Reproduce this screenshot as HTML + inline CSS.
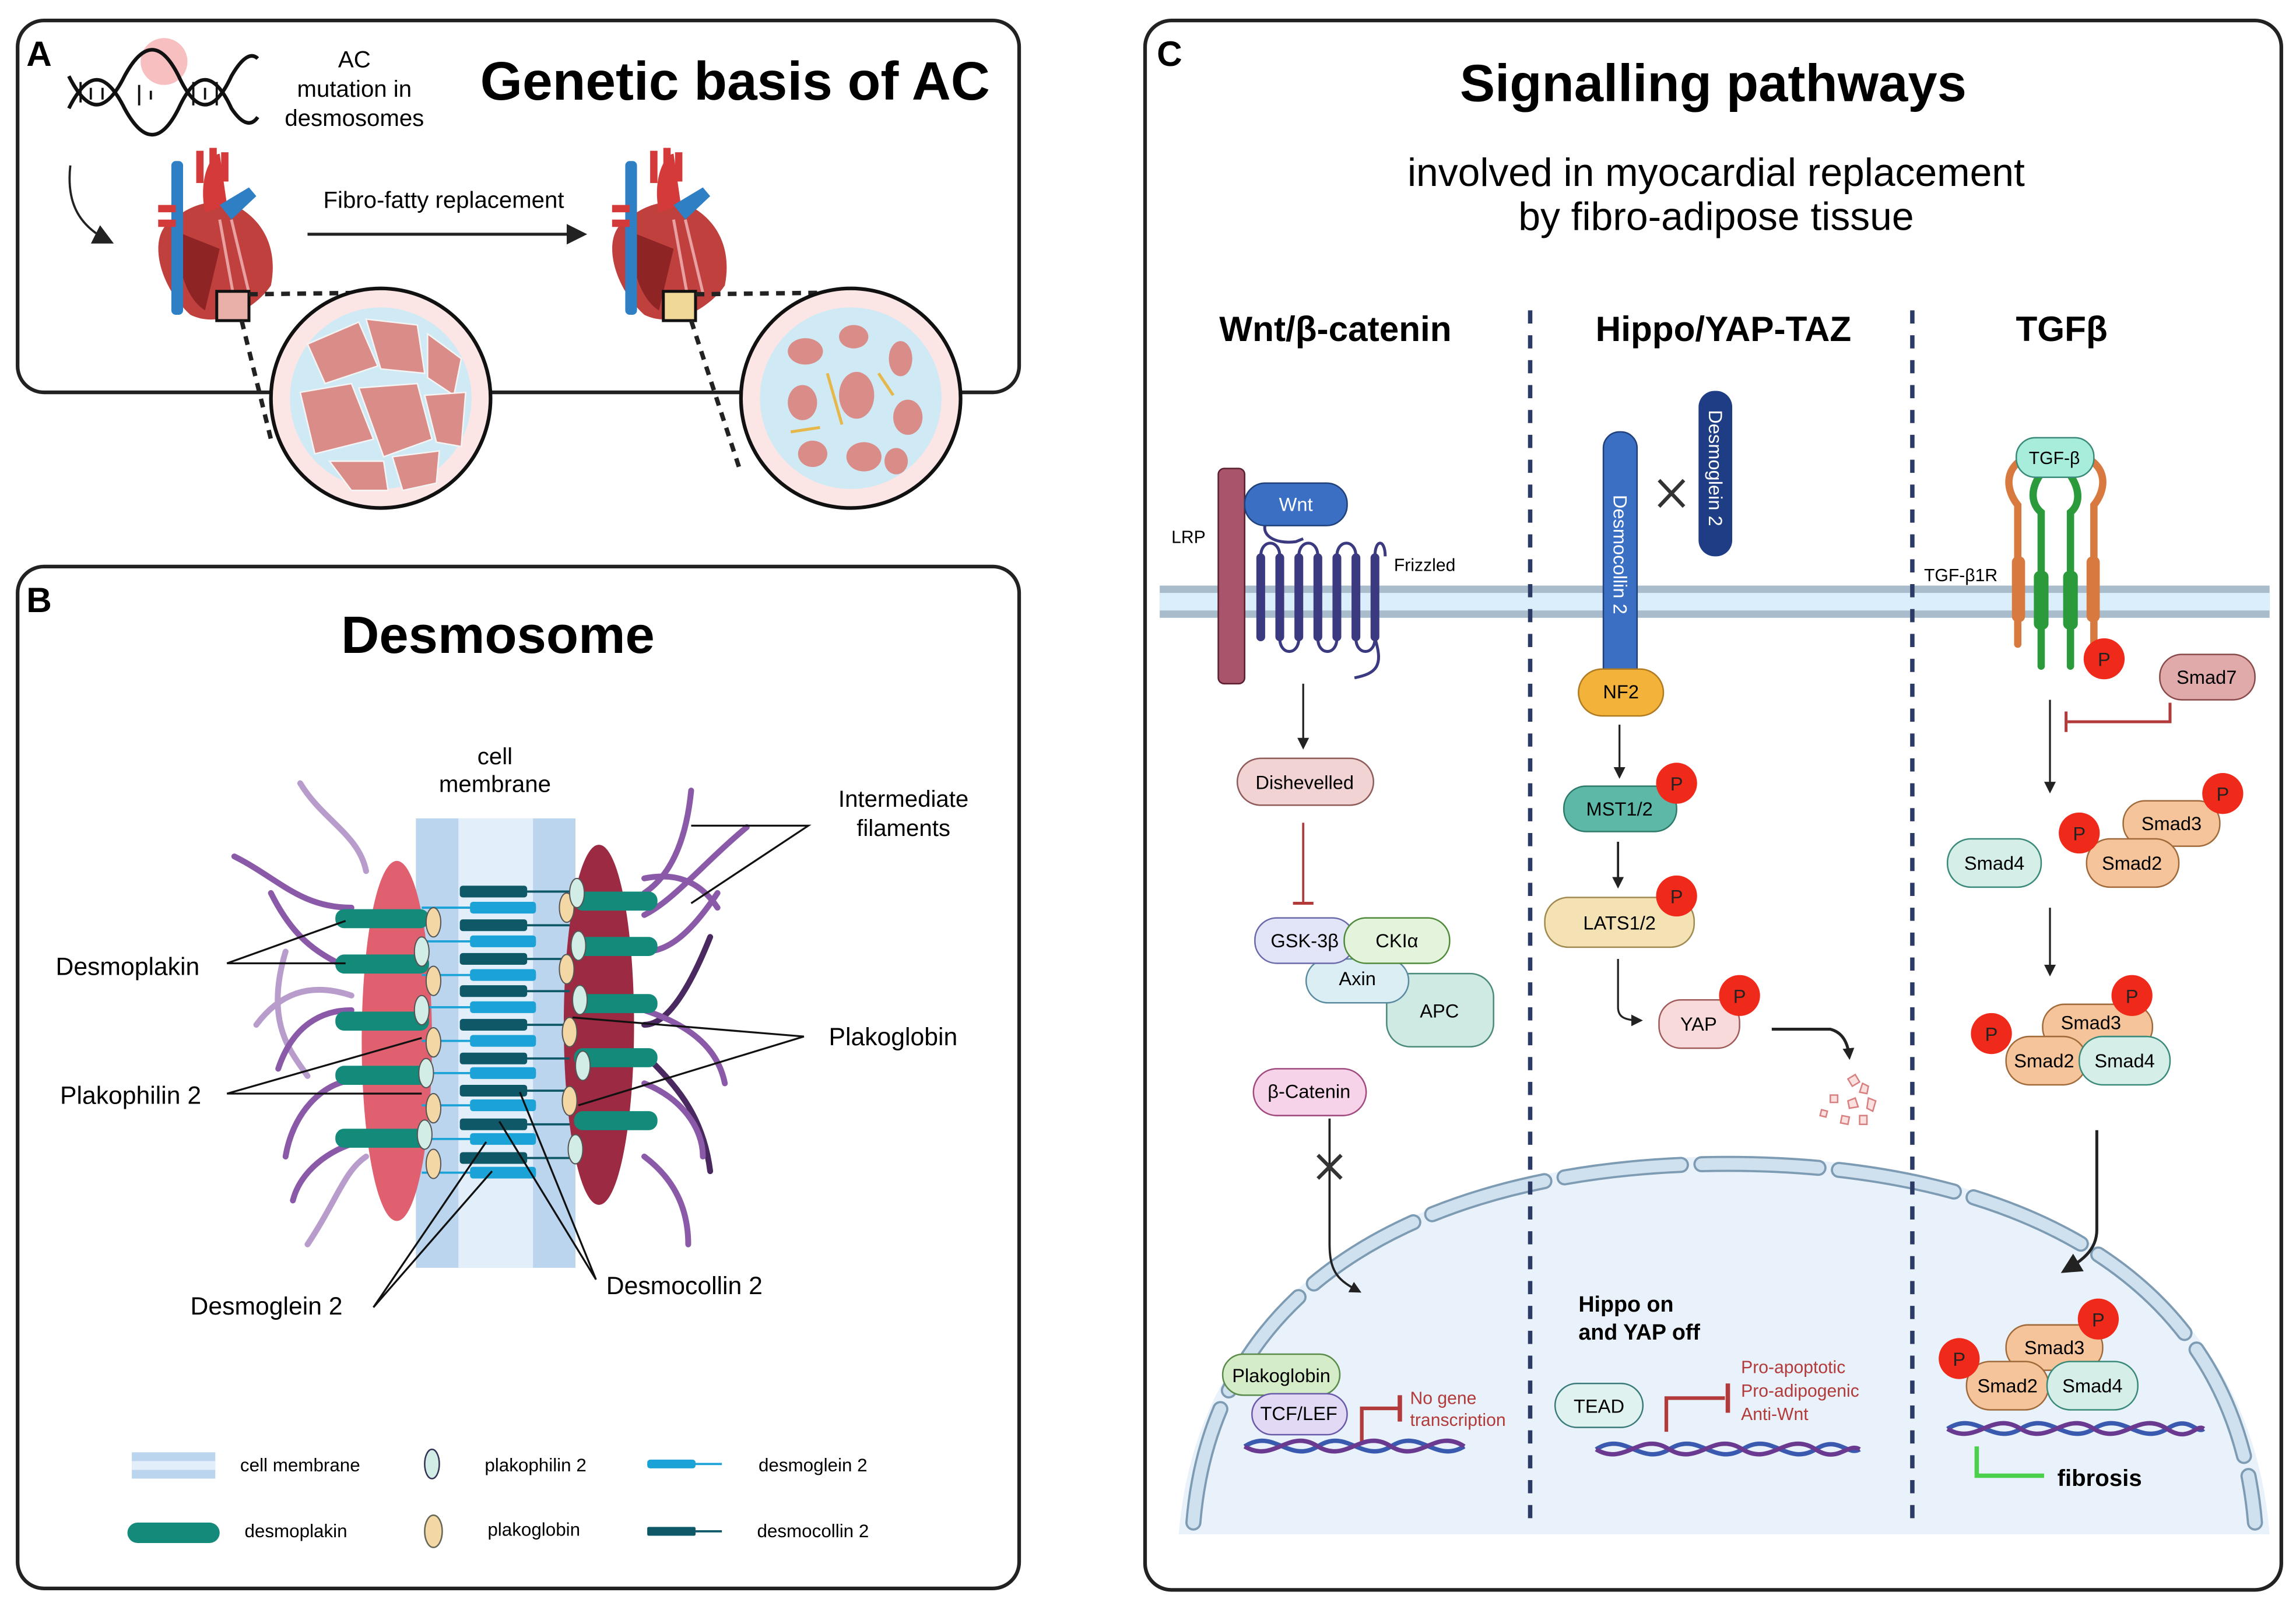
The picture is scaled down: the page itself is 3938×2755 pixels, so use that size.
<!DOCTYPE html>
<html><head><meta charset="utf-8"><style>
html,body{margin:0;padding:0;background:#fff}
svg{display:block}
text{font-family:"Liberation Sans",sans-serif}
</style></head><body>
<svg width="3938" height="2755" viewBox="0 0 1568 1097" xmlns="http://www.w3.org/2000/svg">
<defs>
<marker id="ah" markerWidth="8" markerHeight="8" refX="6" refY="4" orient="auto" markerUnits="userSpaceOnUse"><path d="M0,0 L8,4 L0,8 Z" fill="#222"/></marker>
<marker id="ahb" markerWidth="14" markerHeight="14" refX="11" refY="7" orient="auto" markerUnits="userSpaceOnUse"><path d="M0,0 L14,7 L0,14 Z" fill="#222"/></marker>
</defs>
<rect width="1568" height="1097" fill="#fff"/>

<!-- ===== PANEL A ===== -->
<rect x="12" y="14" width="684" height="254" rx="18" fill="#fff" stroke="#222" stroke-width="2.5"/>
<text x="18" y="45" font-size="24" font-weight="bold">A</text>
<circle cx="112" cy="42" r="16" fill="#f08080" opacity="0.5"/>
<g stroke="#111" stroke-width="2.5" fill="none">
<path d="M47,52 C60,78 72,78 85,52 C98,28 110,28 122,52 C134,78 146,78 158,52 C166,38 172,36 176,40"/>
<path d="M47,74 C60,48 72,48 85,74 C98,98 110,98 122,74 C134,48 146,48 158,74 C166,86 172,86 176,80"/>
</g>
<g stroke="#111" stroke-width="1.5">
<line x1="55" y1="56" x2="55" y2="70"/><line x1="62" y1="60" x2="62" y2="68"/><line x1="70" y1="60" x2="70" y2="68"/><line x1="95" y1="58" x2="95" y2="72"/><line x1="103" y1="62" x2="103" y2="68"/><line x1="132" y1="56" x2="132" y2="72"/><line x1="140" y1="60" x2="140" y2="68"/><line x1="148" y1="56" x2="148" y2="72"/>
</g>
<text x="242" y="46" font-size="16" text-anchor="middle">AC</text>
<text x="242" y="66" font-size="16" text-anchor="middle">mutation in</text>
<text x="242" y="86" font-size="16" text-anchor="middle">desmosomes</text>
<text x="502" y="68" font-size="37" font-weight="bold" text-anchor="middle">Genetic basis of AC</text>
<path d="M48,113 C45,140 55,155 75,165" fill="none" stroke="#222" stroke-width="1.5" marker-end="url(#ahb)"/>
<text x="303" y="142" font-size="16" text-anchor="middle">Fibro-fatty replacement</text>
<line x1="210" y1="160" x2="398" y2="160" stroke="#222" stroke-width="2" marker-end="url(#ahb)"/>
<g id="heart">
<path d="M118,150 C100,160 108,195 130,215 C150,225 175,210 185,195 C190,170 180,150 160,140 C145,135 130,140 118,150 Z" fill="#c0403e"/>
<path d="M125,160 C118,180 128,205 140,212 L150,170 Z" fill="#8e2424"/>
<path d="M150,150 L160,205 M158,150 L170,200" stroke="#e8a0a0" stroke-width="2"/>
<rect x="117" y="110" width="8" height="105" rx="3" fill="#2f7fc4"/>
<path d="M140,145 C135,120 145,105 150,105 L155,140 Z" fill="#d43a3a"/>
<rect x="134" y="103" width="5" height="22" fill="#d43a3a"/><rect x="143" y="101" width="5" height="22" fill="#d43a3a"/><rect x="151" y="104" width="5" height="20" fill="#d43a3a"/>
<path d="M150,140 L170,128 L175,134 L158,150 Z" fill="#2f7fc4"/>
<rect x="108" y="140" width="12" height="5" fill="#d43a3a"/><rect x="108" y="150" width="12" height="5" fill="#d43a3a"/>
</g>
<use href="#heart" transform="translate(310,0)"/>
<rect x="148" y="199" width="22" height="20" fill="#e8b0a8" stroke="#111" stroke-width="2"/>
<rect x="453" y="199" width="22" height="20" fill="#f0d898" stroke="#111" stroke-width="2"/>
<g stroke="#222" stroke-width="3" stroke-dasharray="6,5" fill="none">
<path d="M170,201 L250,200"/><path d="M165,219 L185,300"/>
<path d="M475,201 L560,200"/><path d="M472,219 L505,320"/>
</g>
<circle cx="260" cy="272" r="75" fill="#fbe5e5" stroke="#111" stroke-width="2.5"/>
<circle cx="260" cy="272" r="62" fill="#cfeaf5"/>
<g fill="#d98c88" stroke="#f4f4f4" stroke-width="1">
<path d="M210,235 L245,220 L258,250 L222,262 Z"/><path d="M250,218 L285,222 L290,255 L260,252 Z"/><path d="M292,228 L315,245 L310,270 L292,258 Z"/>
<path d="M205,268 L240,262 L255,300 L215,310 Z"/><path d="M245,265 L285,262 L295,300 L262,312 Z"/><path d="M290,270 L318,268 L315,305 L298,302 Z"/>
<path d="M225,315 L262,315 L265,335 L240,335 Z"/><path d="M268,312 L300,308 L298,330 L275,335 Z"/>
</g>
<circle cx="581" cy="272" r="75" fill="#fbe5e5" stroke="#111" stroke-width="2.5"/>
<circle cx="581" cy="272" r="62" fill="#cfeaf5"/>
<g fill="#d98c88">
<ellipse cx="550" cy="240" rx="12" ry="9"/><ellipse cx="583" cy="230" rx="10" ry="8"/><ellipse cx="615" cy="245" rx="8" ry="12"/>
<ellipse cx="548" cy="275" rx="10" ry="12"/><ellipse cx="585" cy="270" rx="12" ry="16"/><ellipse cx="620" cy="285" rx="10" ry="12"/>
<ellipse cx="555" cy="310" rx="10" ry="9"/><ellipse cx="590" cy="312" rx="12" ry="10"/><ellipse cx="612" cy="315" rx="8" ry="9"/>
</g>
<g stroke="#e6b84c" stroke-width="2"><line x1="565" y1="255" x2="575" y2="290"/><line x1="600" y1="255" x2="610" y2="270"/><line x1="540" y1="295" x2="560" y2="292"/></g>

<!-- ===== PANEL B ===== -->
<rect x="12" y="387" width="684" height="698" rx="18" fill="#fff" stroke="#222" stroke-width="2.5"/>
<text x="18" y="418" font-size="24" font-weight="bold">B</text>
<text x="340" y="446" font-size="36" font-weight="bold" text-anchor="middle">Desmosome</text>
<text x="338" y="522" font-size="16" text-anchor="middle">cell</text>
<text x="338" y="541" font-size="16" text-anchor="middle">membrane</text>
<text x="617" y="551" font-size="16" text-anchor="middle">Intermediate</text>
<text x="617" y="571" font-size="16" text-anchor="middle">filaments</text>
<g fill="none" stroke="#8a5aa8" stroke-width="4" stroke-linecap="round">
<path d="M205,535 C220,560 245,570 250,595" stroke="#b79ccc"/>
<path d="M160,585 C190,600 205,620 240,620"/>
<path d="M195,650 C180,700 200,720 210,735" stroke="#b79ccc"/>
<path d="M185,610 C200,640 215,650 235,660"/>
<path d="M190,730 C200,700 220,690 240,690"/>
<path d="M195,790 C200,760 220,740 240,738"/>
<path d="M200,820 C205,800 225,785 245,780"/>
<path d="M210,850 C230,820 235,800 250,790" stroke="#b79ccc"/>
<path d="M175,700 C190,680 210,670 240,680" stroke="#b79ccc"/>
<path d="M472,540 C468,580 455,600 440,610"/>
<path d="M510,565 C480,590 460,615 440,625"/>
<path d="M490,610 C470,640 455,650 440,650"/>
<path d="M485,640 C465,690 450,700 440,700" stroke="#4a2860"/>
<path d="M440,720 C460,740 480,760 485,800" stroke="#4a2860"/>
<path d="M440,690 C470,700 490,715 495,740"/>
<path d="M440,740 C465,750 480,770 480,790"/>
<path d="M440,790 C460,805 470,825 470,850"/>
<path d="M440,600 C465,595 480,605 490,620"/>
</g>
<rect x="284" y="559" width="109" height="307" fill="#bcd5ef"/>
<rect x="313" y="559" width="51" height="307" fill="#e2eefa"/>
<ellipse cx="271" cy="711" rx="24" ry="123" fill="#e06070"/>
<ellipse cx="409" cy="700" rx="24" ry="123" fill="#9c2a42"/>
<g>
<g stroke="#0e5868" stroke-width="1.5">
<line x1="315" y1="609" x2="389" y2="609"/><line x1="315" y1="632" x2="389" y2="632"/><line x1="315" y1="655" x2="389" y2="655"/><line x1="315" y1="677" x2="389" y2="677"/><line x1="315" y1="700" x2="389" y2="700"/><line x1="315" y1="723" x2="389" y2="723"/><line x1="315" y1="745" x2="389" y2="745"/><line x1="315" y1="768" x2="389" y2="768"/><line x1="315" y1="791" x2="389" y2="791"/>
</g>
<g stroke="#1ba3d8" stroke-width="1.5">
<line x1="288" y1="620" x2="366" y2="620"/><line x1="288" y1="643" x2="366" y2="643"/><line x1="288" y1="666" x2="366" y2="666"/><line x1="288" y1="688" x2="366" y2="688"/><line x1="288" y1="711" x2="366" y2="711"/><line x1="288" y1="733" x2="366" y2="733"/><line x1="288" y1="755" x2="366" y2="755"/><line x1="288" y1="778" x2="366" y2="778"/><line x1="288" y1="801" x2="366" y2="801"/>
</g>
<g fill="#0e5868">
<rect x="314" y="605" width="46" height="8" rx="2"/><rect x="314" y="628" width="46" height="8" rx="2"/><rect x="314" y="651" width="46" height="8" rx="2"/><rect x="314" y="673" width="46" height="8" rx="2"/><rect x="314" y="696" width="46" height="8" rx="2"/><rect x="314" y="719" width="46" height="8" rx="2"/><rect x="314" y="741" width="46" height="8" rx="2"/><rect x="314" y="764" width="46" height="8" rx="2"/><rect x="314" y="787" width="46" height="8" rx="2"/>
</g>
<g fill="#1ba3d8">
<rect x="321" y="616" width="45" height="8" rx="2"/><rect x="321" y="639" width="45" height="8" rx="2"/><rect x="321" y="662" width="45" height="8" rx="2"/><rect x="321" y="684" width="45" height="8" rx="2"/><rect x="321" y="707" width="45" height="8" rx="2"/><rect x="321" y="729" width="45" height="8" rx="2"/><rect x="321" y="751" width="45" height="8" rx="2"/><rect x="321" y="774" width="45" height="8" rx="2"/><rect x="321" y="797" width="45" height="8" rx="2"/>
</g>
</g>
<g fill="#138a7a">
<rect x="229" y="621" width="64" height="13" rx="6"/><rect x="229" y="652" width="64" height="13" rx="6"/><rect x="229" y="691" width="64" height="13" rx="6"/><rect x="229" y="728" width="64" height="13" rx="6"/><rect x="229" y="771" width="64" height="13" rx="6"/>
<rect x="392" y="609" width="57" height="13" rx="6"/><rect x="392" y="640" width="57" height="13" rx="6"/><rect x="392" y="679" width="57" height="13" rx="6"/><rect x="392" y="716" width="57" height="13" rx="6"/><rect x="392" y="759" width="57" height="13" rx="6"/>
</g>
<g stroke="#555" stroke-width="0.8">
<g fill="#f3d8a6">
<ellipse cx="296" cy="630" rx="5" ry="10"/><ellipse cx="296" cy="670" rx="5" ry="10"/><ellipse cx="296" cy="712" rx="5" ry="10"/><ellipse cx="296" cy="757" rx="5" ry="10"/><ellipse cx="296" cy="795" rx="5" ry="10"/>
<ellipse cx="387" cy="620" rx="5" ry="10"/><ellipse cx="387" cy="662" rx="5" ry="10"/><ellipse cx="389" cy="705" rx="5" ry="10"/><ellipse cx="389" cy="752" rx="5" ry="10"/>
</g>
<g fill="#d2ece6">
<ellipse cx="288" cy="650" rx="5" ry="10"/><ellipse cx="288" cy="690" rx="5" ry="10"/><ellipse cx="291" cy="733" rx="5" ry="10"/><ellipse cx="290" cy="775" rx="5" ry="10"/>
<ellipse cx="394" cy="610" rx="5" ry="10"/><ellipse cx="395" cy="646" rx="5" ry="10"/><ellipse cx="396" cy="683" rx="5" ry="10"/><ellipse cx="398" cy="728" rx="5" ry="10"/><ellipse cx="393" cy="785" rx="5" ry="10"/>
</g>
</g>
<g stroke="#111" stroke-width="1.3" fill="none">
<polyline points="236,629 155,658 236,658"/>
<polyline points="288,709 155,747 288,747"/>
<polyline points="391,695 549,708 395,755"/>
<polyline points="472,564 552,564 472,617"/>
<polyline points="332,780 255,893 336,800"/>
<polyline points="355,746 407,874 341,766"/>
</g>
<text x="38" y="666" font-size="17">Desmoplakin</text>
<text x="41" y="754" font-size="17">Plakophilin 2</text>
<text x="566" y="714" font-size="17">Plakoglobin</text>
<text x="130" y="898" font-size="17">Desmoglein 2</text>
<text x="414" y="884" font-size="17">Desmocollin 2</text>
<rect x="90" y="992" width="57" height="18" fill="#bcd5ef"/><rect x="90" y="998" width="57" height="6" fill="#e2eefa"/>
<text x="164" y="1005" font-size="12.5">cell membrane</text>
<ellipse cx="295" cy="1000" rx="5" ry="10" fill="#d2ece6" stroke="#335" stroke-width="1"/>
<text x="331" y="1005" font-size="12.5">plakophilin 2</text>
<rect x="442" y="997" width="33" height="6" rx="2" fill="#1ba3d8"/><line x1="475" y1="1000" x2="493" y2="1000" stroke="#1ba3d8" stroke-width="1.5"/>
<text x="518" y="1005" font-size="12.5">desmoglein 2</text>
<rect x="87" y="1040" width="63" height="14" rx="7" fill="#138a7a"/>
<text x="167" y="1050" font-size="12.5">desmoplakin</text>
<ellipse cx="296" cy="1046" rx="6" ry="11" fill="#f3d8a6" stroke="#665" stroke-width="1"/>
<text x="333" y="1049" font-size="12.5">plakoglobin</text>
<rect x="442" y="1043" width="33" height="6" rx="1" fill="#0e5868"/><line x1="475" y1="1046" x2="493" y2="1046" stroke="#0e5868" stroke-width="1.5"/>
<text x="517" y="1050" font-size="12.5">desmocollin 2</text>

<!-- ===== PANEL C ===== -->
<rect x="782" y="14" width="776" height="1072" rx="18" fill="#fff" stroke="#222" stroke-width="2.5"/>
<text x="790" y="45" font-size="24" font-weight="bold">C</text>
<text x="1170" y="69" font-size="36" font-weight="bold" text-anchor="middle">Signalling pathways</text>
<text x="1172" y="127" font-size="27" text-anchor="middle">involved in myocardial replacement</text>
<text x="1172" y="157" font-size="27" text-anchor="middle">by fibro-adipose tissue</text>
<text x="912" y="233" font-size="24" font-weight="bold" text-anchor="middle">Wnt/β-catenin</text>
<text x="1177" y="233" font-size="24" font-weight="bold" text-anchor="middle">Hippo/YAP-TAZ</text>
<text x="1408" y="233" font-size="24" font-weight="bold" text-anchor="middle">TGFβ</text>

<path d="M805,1048 C820,860 1000,790 1180,790 C1360,790 1535,860 1550,1048 Z" fill="#e9f2fa"/>
<path d="M815,1040 C830,860 1000,795 1180,795 C1360,795 1525,860 1540,1040" fill="none" stroke="#7d9bb3" stroke-width="11" stroke-dasharray="80,14" stroke-linecap="round"/>
<path d="M815,1040 C830,860 1000,795 1180,795 C1360,795 1525,860 1540,1040" fill="none" stroke="#cfe0ee" stroke-width="8" stroke-dasharray="80,14" stroke-linecap="round"/>

<rect x="792" y="400" width="758" height="22" fill="#a9bccb"/>
<rect x="792" y="405" width="758" height="12" fill="#dbeefc"/>

<g stroke="#2c3a66" stroke-width="3" stroke-dasharray="9,8">
<line x1="1045" y1="212" x2="1045" y2="1045"/><line x1="1306" y1="212" x2="1306" y2="1045"/>
</g>

<rect x="832" y="320" width="18" height="147" rx="4" fill="#a8546a" stroke="#5a2030" stroke-width="1"/>
<text x="800" y="371" font-size="12">LRP</text>
<path d="M865,356 C860,365 870,372 885,370 L890,368" fill="none" stroke="#3b3a80" stroke-width="2"/>
<rect x="850" y="330" width="70" height="29" rx="14" fill="#3a6fc4" stroke="#20417a" stroke-width="1"/>
<text x="885" y="349" font-size="13" fill="#fff" text-anchor="middle">Wnt</text>
<g fill="#3b3a80">
<rect x="858" y="378" width="6" height="60" rx="3"/><rect x="871" y="378" width="6" height="60" rx="3"/><rect x="884" y="378" width="6" height="60" rx="3"/><rect x="897" y="378" width="6" height="60" rx="3"/><rect x="910" y="378" width="6" height="60" rx="3"/><rect x="923" y="378" width="6" height="60" rx="3"/><rect x="936" y="378" width="6" height="60" rx="3"/>
</g>
<path d="M861,380 C861,368 874,368 874,380 M887,380 C887,368 900,368 900,380 M913,380 C913,368 926,368 926,380 M874,436 C874,448 887,448 887,436 M900,436 C900,448 913,448 913,436 M926,436 C926,448 939,448 939,436 M939,380 C939,368 946,368 946,380 M939,436 C945,455 940,460 925,463" fill="none" stroke="#3b3a80" stroke-width="2"/>
<text x="952" y="390" font-size="12">Frizzled</text>
<line x1="890" y1="467" x2="890" y2="510" stroke="#222" stroke-width="1.3" marker-end="url(#ah)"/>
<rect x="845" y="518" width="93" height="32" rx="16" fill="#f0d3d2" stroke="#8e5a5a" stroke-width="1"/>
<text x="891" y="539" font-size="13" text-anchor="middle">Dishevelled</text>
<line x1="890" y1="562" x2="890" y2="617" stroke="#b23a3a" stroke-width="1.5"/>
<line x1="883" y1="617" x2="897" y2="617" stroke="#b23a3a" stroke-width="2"/>
<rect x="947" y="665" width="73" height="50" rx="16" fill="#cfe9e3" stroke="#4a8a7a" stroke-width="1"/>
<text x="983" y="695" font-size="13" text-anchor="middle">APC</text>
<rect x="892" y="655" width="70" height="30" rx="15" fill="#daeef4" stroke="#5a8aa0" stroke-width="1"/>
<text x="927" y="673" font-size="13" text-anchor="middle">Axin</text>
<rect x="857" y="627" width="68" height="31" rx="15" fill="#e2e4f8" stroke="#6a6aaa" stroke-width="1"/>
<text x="891" y="647" font-size="13" text-anchor="middle">GSK-3β</text>
<rect x="918" y="627" width="72" height="31" rx="15" fill="#e4f4dc" stroke="#4e8a3a" stroke-width="1"/>
<text x="954" y="647" font-size="13" text-anchor="middle">CKIα</text>
<rect x="856" y="730" width="77" height="32" rx="16" fill="#f6d3e8" stroke="#a04a80" stroke-width="1"/>
<text x="894" y="750" font-size="13" text-anchor="middle">β-Catenin</text>
<path d="M908,764 L908,850 C908,870 915,875 928,882" fill="none" stroke="#222" stroke-width="1.5" marker-end="url(#ah)"/>
<path d="M900,789 L916,805 M916,789 L900,805" stroke="#333" stroke-width="2.5"/>
<rect x="835" y="925" width="80" height="28" rx="14" fill="#d4ecc8" stroke="#5a8a4a" stroke-width="1"/>
<text x="875" y="944" font-size="13" text-anchor="middle">Plakoglobin</text>
<rect x="855" y="952" width="65" height="28" rx="14" fill="#e2daf4" stroke="#6a5aaa" stroke-width="1"/>
<text x="887" y="970" font-size="13" text-anchor="middle">TCF/LEF</text>
<polyline points="930,985 930,962 955,962" fill="none" stroke="#b23a3a" stroke-width="2.5"/>
<line x1="956" y1="953" x2="956" y2="971" stroke="#b23a3a" stroke-width="3"/>
<text x="963" y="959" font-size="12" fill="#b23a3a">No gene</text>
<text x="963" y="974" font-size="12" fill="#b23a3a">transcription</text>
<g fill="none" stroke-width="3">
<path d="M850,988 C870,975 880,1000 900,988 C920,975 930,1000 950,988 C970,975 980,1000 1000,988" stroke="#3a5ab0"/>
<path d="M850,988 C870,1000 880,975 900,988 C920,1000 930,975 950,988 C970,1000 980,975 1000,988" stroke="#6a3a90"/>
</g>

<rect x="1095" y="295" width="23" height="175" rx="11" fill="#3a6fc4" stroke="#20417a" stroke-width="1"/>
<text transform="translate(1102,338) rotate(90)" font-size="13" fill="#fff">Desmocollin 2</text>
<rect x="1160" y="267" width="23" height="113" rx="11" fill="#1f3d85"/>
<text transform="translate(1167,280) rotate(90)" font-size="13" fill="#fff">Desmoglein 2</text>
<path d="M1133,328 L1150,346 M1150,328 L1133,346" stroke="#333" stroke-width="2.5"/>
<rect x="1078" y="457" width="58" height="32" rx="16" fill="#f3b23a" stroke="#b07a20" stroke-width="1"/>
<text x="1107" y="477" font-size="13" text-anchor="middle">NF2</text>
<line x1="1106" y1="495" x2="1106" y2="530" stroke="#222" stroke-width="1.3" marker-end="url(#ah)"/>
<rect x="1068" y="537" width="77" height="31" rx="15" fill="#5db8a8" stroke="#2e7a6a" stroke-width="1"/>
<text x="1106" y="557" font-size="13" text-anchor="middle">MST1/2</text>
<line x1="1105" y1="575" x2="1105" y2="605" stroke="#222" stroke-width="1.5" marker-end="url(#ah)"/>
<rect x="1055" y="613" width="102" height="34" rx="16" fill="#f5e2b4" stroke="#a08a50" stroke-width="1"/>
<text x="1106" y="635" font-size="13" text-anchor="middle">LATS1/2</text>
<path d="M1105,655 L1105,688 C1105,695 1110,697 1120,697" fill="none" stroke="#222" stroke-width="1.3" marker-end="url(#ah)"/>
<rect x="1133" y="683" width="55" height="33" rx="15" fill="#f8dada" stroke="#a05a5a" stroke-width="1"/>
<text x="1160" y="704" font-size="13" text-anchor="middle">YAP</text>
<path d="M1210,703 L1250,703 C1258,705 1262,712 1263,722" fill="none" stroke="#222" stroke-width="2" marker-end="url(#ah)"/>
<g fill="#fbe0e0" stroke="#d88080" stroke-width="1">
<path d="M1262,737 l5,-3 3,5 -5,3z"/><path d="M1272,740 l4,2 -1,5 -5,-1z"/><path d="M1250,748 l5,0 0,5 -5,0z"/><path d="M1262,752 l5,-2 2,6 -6,1z"/><path d="M1276,750 l5,2 -2,7 -4,-2z"/><path d="M1244,758 l4,1 -1,4 -4,-1z"/><path d="M1258,762 l5,1 -1,5 -5,-1z"/><path d="M1270,762 l5,0 0,6 -5,0z"/>
</g>
<text x="1078" y="896" font-size="15" font-weight="bold">Hippo on</text>
<text x="1078" y="915" font-size="15" font-weight="bold">and YAP off</text>
<rect x="1062" y="945" width="60" height="30" rx="15" fill="#e0f2f0" stroke="#3a7a7a" stroke-width="1"/>
<text x="1092" y="965" font-size="13" text-anchor="middle">TEAD</text>
<polyline points="1138,978 1138,955 1178,955" fill="none" stroke="#b23a3a" stroke-width="2.5"/>
<line x1="1180" y1="945" x2="1180" y2="965" stroke="#b23a3a" stroke-width="3"/>
<text x="1189" y="938" font-size="12" fill="#b23a3a">Pro-apoptotic</text>
<text x="1189" y="954" font-size="12" fill="#b23a3a">Pro-adipogenic</text>
<text x="1189" y="970" font-size="12" fill="#b23a3a">Anti-Wnt</text>
<g fill="none" stroke-width="3">
<path d="M1090,990 C1110,977 1120,1002 1140,990 C1160,977 1170,1002 1190,990 C1210,977 1220,1002 1240,990 C1255,980 1262,995 1270,990" stroke="#3a5ab0"/>
<path d="M1090,990 C1110,1002 1120,977 1140,990 C1160,1002 1170,977 1190,990 C1210,1002 1220,977 1240,990 C1255,1000 1262,985 1270,990" stroke="#6a3a90"/>
</g>

<g fill="none" stroke="#d87a40" stroke-width="5" stroke-linecap="round">
<path d="M1384,312 C1368,320 1370,335 1378,345 L1378,440"/>
<path d="M1424,312 C1440,320 1438,335 1430,345 L1430,440"/>
</g>
<g fill="#d87a40"><rect x="1374" y="380" width="9" height="45" rx="4"/><rect x="1425" y="380" width="9" height="45" rx="4"/></g>
<g fill="none" stroke="#2a9a3a" stroke-width="5" stroke-linecap="round">
<path d="M1395,322 C1385,335 1388,345 1394,350 L1394,455"/>
<path d="M1412,322 C1422,335 1420,345 1414,350 L1414,455"/>
</g>
<g fill="#2a9a3a"><rect x="1389" y="390" width="10" height="40" rx="4"/><rect x="1409" y="390" width="10" height="40" rx="4"/></g>
<rect x="1377" y="299" width="53" height="27" rx="13" fill="#a8ecdc" stroke="#3a8a7a" stroke-width="1"/>
<text x="1403" y="317" font-size="12" text-anchor="middle">TGF-β</text>
<text x="1314" y="397" font-size="12">TGF-β1R</text>
<rect x="1475" y="447" width="65" height="31" rx="15" fill="#e0aaaa" stroke="#8a4a4a" stroke-width="1"/>
<text x="1507" y="467" font-size="13" text-anchor="middle">Smad7</text>
<polyline points="1482,480 1482,493 1412,493" fill="none" stroke="#b23a3a" stroke-width="2"/>
<line x1="1411" y1="486" x2="1411" y2="500" stroke="#b23a3a" stroke-width="2"/>
<line x1="1400" y1="478" x2="1400" y2="540" stroke="#222" stroke-width="1.3" marker-end="url(#ah)"/>
<rect x="1330" y="573" width="64" height="33" rx="16" fill="#d6eee8" stroke="#3a8a7a" stroke-width="1"/>
<text x="1362" y="594" font-size="13" text-anchor="middle">Smad4</text>
<rect x="1450" y="547" width="66" height="31" rx="15" fill="#f6c49a" stroke="#a06a3a" stroke-width="1"/>
<text x="1483" y="567" font-size="13" text-anchor="middle">Smad3</text>
<rect x="1425" y="573" width="63" height="33" rx="16" fill="#f6c49a" stroke="#a06a3a" stroke-width="1"/>
<text x="1456" y="594" font-size="13" text-anchor="middle">Smad2</text>
<line x1="1400" y1="620" x2="1400" y2="665" stroke="#222" stroke-width="1.3" marker-end="url(#ah)"/>
<rect x="1395" y="686" width="75" height="31" rx="15" fill="#f6c49a" stroke="#a06a3a" stroke-width="1"/>
<text x="1428" y="703" font-size="13" text-anchor="middle">Smad3</text>
<rect x="1370" y="708" width="55" height="33" rx="16" fill="#f6c49a" stroke="#a06a3a" stroke-width="1"/>
<text x="1396" y="729" font-size="13" text-anchor="middle">Smad2</text>
<rect x="1420" y="708" width="62" height="33" rx="16" fill="#d6eee8" stroke="#3a8a7a" stroke-width="1"/>
<text x="1451" y="729" font-size="13" text-anchor="middle">Smad4</text>
<path d="M1432,772 L1432,840 C1432,855 1420,862 1410,868" fill="none" stroke="#222" stroke-width="2" marker-end="url(#ahb)"/>
<rect x="1370" y="905" width="66" height="31" rx="15" fill="#f6c49a" stroke="#a06a3a" stroke-width="1"/>
<text x="1403" y="925" font-size="13" text-anchor="middle">Smad3</text>
<rect x="1343" y="930" width="56" height="33" rx="16" fill="#f6c49a" stroke="#a06a3a" stroke-width="1"/>
<text x="1371" y="951" font-size="13" text-anchor="middle">Smad2</text>
<rect x="1398" y="930" width="62" height="33" rx="16" fill="#d6eee8" stroke="#3a8a7a" stroke-width="1"/>
<text x="1429" y="951" font-size="13" text-anchor="middle">Smad4</text>
<g fill="none" stroke-width="3">
<path d="M1330,976 C1350,963 1360,988 1380,976 C1400,963 1410,988 1430,976 C1450,963 1460,988 1480,976 C1495,966 1500,980 1505,976" stroke="#3a5ab0"/>
<path d="M1330,976 C1350,988 1360,963 1380,976 C1400,988 1410,963 1430,976 C1450,988 1460,963 1480,976 C1495,986 1500,972 1505,976" stroke="#6a3a90"/>
</g>
<polyline points="1350,988 1350,1008 1396,1008" fill="none" stroke="#4ad04a" stroke-width="3"/>
<text x="1405" y="1015" font-size="16" font-weight="bold">fibrosis</text>

<g fill="#f02a1a">
<circle cx="1145" cy="535" r="14"/><circle cx="1145" cy="612" r="14"/><circle cx="1188" cy="680" r="14"/>
<circle cx="1437" cy="450" r="14"/><circle cx="1420" cy="569" r="14"/><circle cx="1518" cy="542" r="14"/>
<circle cx="1360" cy="706" r="14"/><circle cx="1456" cy="680" r="14"/>
<circle cx="1338" cy="928" r="14"/><circle cx="1433" cy="901" r="14"/>
</g>
<g font-size="13" fill="#222" text-anchor="middle">
<text x="1145" y="540">P</text><text x="1145" y="617">P</text><text x="1188" y="685">P</text>
<text x="1437" y="455">P</text><text x="1420" y="574">P</text><text x="1518" y="547">P</text>
<text x="1360" y="711">P</text><text x="1456" y="685">P</text>
<text x="1338" y="933">P</text><text x="1433" y="906">P</text>
</g>
</svg>
</body></html>
